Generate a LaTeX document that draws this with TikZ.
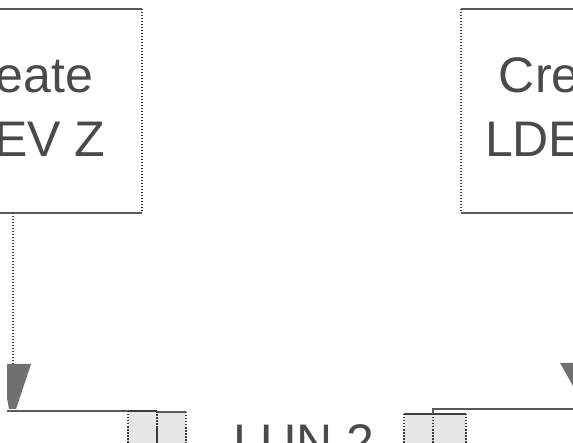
\documentclass[tikz,border=0pt]{standalone}
\usepackage{fontspec}
\setmainfont{Liberation Sans}
\definecolor{edge}{HTML}{5A5A5A}
\definecolor{vedge}{HTML}{3A3A3A}
\definecolor{ink}{HTML}{4A4A4A}
\definecolor{cell}{HTML}{E6E6E6}
\definecolor{celledge}{HTML}{3C3C3C}
\definecolor{headc}{HTML}{707070}
\begin{document}
\begin{tikzpicture}[x=1pt,y=-1pt,
  frame/.style={inner sep=0pt, outer sep=0pt},
  hline/.style={draw=edge, line width=1.6pt},
  vline/.style={draw=vedge, line width=2pt, dash pattern=on 1.5pt off 1.5pt},
  lbl/.style={inner sep=0pt, outer sep=0pt, text=ink, font=\fontsize{50}{60}\selectfont},
  cellbox/.style={inner sep=0pt, outer sep=0pt, fill=cell, minimum height=50pt},
  cellv/.style={draw=celledge, line width=1.8pt, dash pattern=on 1.5pt off 1.5pt},
  celltop/.style={draw=celledge, line width=2pt},
  head/.style={fill=headc}]
\useasboundingbox (0,0) rectangle (573,443);
\clip (0,0) rectangle (573,443);
\fill[white] (0,0) rectangle (573,443);

% boxes
\node[frame, minimum width=248pt, minimum height=204pt] (lbox) at (18,111) {};
\node[frame, minimum width=226pt, minimum height=204pt] (rbox) at (574,111) {};
\draw[hline] (lbox.north west) -- (lbox.north east);
\draw[hline] (lbox.south west) -- (lbox.south east);
\draw[vline] (lbox.north east) -- (lbox.south east);
\draw[hline] (rbox.north west) -- (rbox.north east);
\draw[hline] (rbox.south west) -- (rbox.south east);
\draw[vline] (rbox.north west) -- (rbox.south west);

% labels
\node[lbl, anchor=base] (lt1) at (18,93) {Create};
\node[lbl, anchor=base] (lt2) at (18,157) {LDEV Z};
\node[lbl, anchor=base] (rt1) at (574,93) {Create};
\node[lbl, anchor=base] (rt2) at (574,157) {LDEV Y};
\node[lbl, anchor=base west] (lun) at (233,460) {LUN 2};

% cells
\node[cellbox, minimum width=29pt, anchor=north west] (c1) at (128,411) {};
\node[cellbox, minimum width=29pt, anchor=north west] (c2) at (157,412) {};
\node[cellbox, minimum width=29pt, anchor=north west] (c3) at (404,414) {};
\node[cellbox, minimum width=33pt, anchor=north west] (c4) at (433,414) {};
\draw[celltop] (c1.north west) -- (c1.north east);
\draw[hline] (c2.north west) -- (c2.north east);
\draw[celltop] (c3.north west) -- (c4.north east);
\foreach \c in {c1,c2,c3,c4}{
  \draw[cellv] (\c.north west) -- (\c.south west);
  \draw[cellv] (\c.north east) -- (\c.south east);
}

% left connector
\coordinate (la) at (13,364);
\coordinate (lstart) at (7,411);
\draw[vline] (lbox.south -| la) -- (la);
\fill[head] (7,364) -- (31,364) -- (16,409) -- (9,409) -- (7,398) -- cycle;
\draw[hline] (lstart) -- (c1.north west);

% right connector
\coordinate (rend) at (590,409);
\draw[hline] (rend) -- (c3.north east |- rend) -- (c3.north east);
\fill[head] (560,363) -- (588,363) -- (573,386) -- cycle;
\end{tikzpicture}
\end{document}
